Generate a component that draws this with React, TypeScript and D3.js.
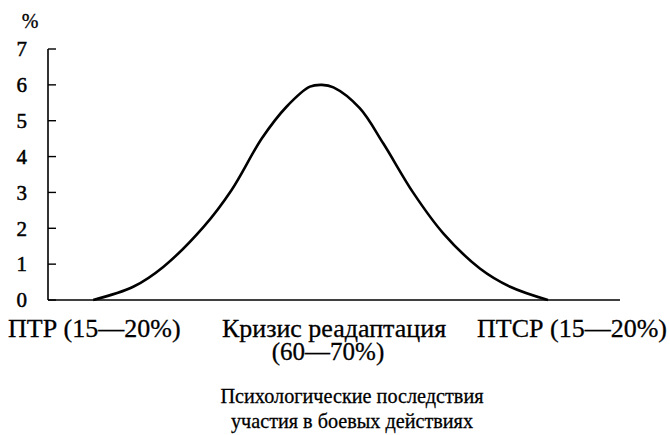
import React from "react";
import * as d3 from "d3";

const yTicks = [0, 1, 2, 3, 4, 5, 6, 7];
const curveX = [7.9, 14.9, 20.2, 27.2, 32.1, 37.4, 41.7, 45.8, 47.9, 49.9, 54.5, 58.6, 63.9, 69.1, 75.5, 80.8, 87.4];
const curveY = [0, 0.37, 0.93, 2.04, 3.07, 4.51, 5.39, 5.95, 6.0, 5.93, 5.35, 4.37, 2.98, 1.86, 0.88, 0.37, 0];
const unitLabel = "%";
const categoryLabels = [["ПТР (15—20%)"], ["Кризис реадаптация", "(60—70%)"], ["ПТСР (15—20%)"]];
const titleLines = ["Психологические последствия", "участия в боевых действиях"];

const W = 670;
const H = 435;
const ts = { fontFamily: '"Liberation Serif"' };

export default function App() {
  const x = d3.scaleLinear().domain([0, 100]).range([48, 620]);
  const y = d3.scaleLinear().domain([0, 7]).range([300, 49]);
  const pts: [number, number][] = curveX.map((v, i) => [v, curveY[i]]);
  const line = d3
    .line<[number, number]>()
    .x((d) => x(d[0]))
    .y((d) => y(d[1]))
    .curve(d3.curveCatmullRom.alpha(0.5));

  const labelX = [[8], [334, 328], [667]];
  const anchors = ["start", "middle", "end"];
  const labelSize = [[26], [26, 25], [26]];
  const titleLen = [263, 242];

  return (
    <svg
      width={W}
      height={H}
      style={{ position: "absolute", left: 0, top: 0, background: "#fff" }}
    >
      <rect x={0} y={0} width={W} height={H} fill="#fff" />
      <line x1={x(0)} x2={x(0)} y1={y(7)} y2={y(0)} stroke="#000" strokeWidth={1.6} />
      {yTicks.map((t) => (
        <g key={t}>
          <line x1={x(0)} x2={x(0) + 8} y1={y(t)} y2={y(t)} stroke="#000" strokeWidth={1.4} />
          <text x={27} y={y(t)} dy="0.35em" textAnchor="end" fontSize={21} fill="#000" stroke="#000" strokeWidth={0.5} style={ts}>
            {t}
          </text>
        </g>
      ))}
      <line x1={x(0)} x2={x(100)} y1={y(0)} y2={y(0)} stroke="#000" strokeWidth={1.6} />
      <text x={30} y={28} textAnchor="middle" fontSize={20} fill="#000" stroke="#000" strokeWidth={0.3} style={ts}>
        {unitLabel}
      </text>
      <path d={line(pts) || ""} fill="none" stroke="#000" strokeWidth={2.6} strokeLinejoin="round" />
      {categoryLabels.map((lines, i) =>
        lines.map((s, j) => (
          <text
            key={i + "-" + j}
            x={labelX[i][j]}
            y={337 + j * 23}
            textAnchor={anchors[i]}
            fontSize={labelSize[i][j]}
            fill="#000"
            stroke="#000"
            strokeWidth={0.3}
            style={ts}
          >
            {s}
          </text>
        ))
      )}
      {titleLines.map((s, j) => (
        <text
          key={j}
          x={352}
          y={403 + j * 25}
          textAnchor="middle"
          fontSize={21}
          fill="#000"
          stroke="#000"
          strokeWidth={0.3}
          textLength={titleLen[j]}
          lengthAdjust="spacingAndGlyphs"
          style={ts}
        >
          {s}
        </text>
      ))}
    </svg>
  );
}
